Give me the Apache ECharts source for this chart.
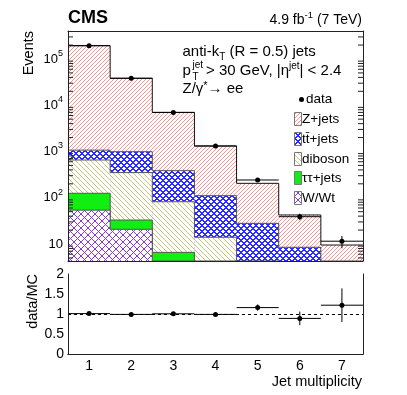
<!DOCTYPE html>
<html>
<head>
<meta charset="utf-8">
<title>CMS jet multiplicity</title>
<script src="https://cdn.jsdelivr.net/npm/echarts@6/dist/echarts.min.js"></script>
<style>
    html, body { margin: 0; padding: 0; background: #fff; }
    #chart { width: 407px; height: 395px; }
</style>
</head>
<body>
<div id="chart"></div>
<script>
    // bins and per-process yields
    var jetBins  = ['1', '2', '3', '4', '5', '6', '7'];
    var zJets    = [192900, 37300, 6615, 1204, 177, 33.9, 6.7];
    var ttJets   = [415, 640, 303, 97, 25.5, 7.7, 2.5];
    var diboson  = [530, 317, 75.4, 13, 2.5, 0.8, 0.3];
    var tauTau   = [71, 12.2, 6.6, 1, 0, 0, 0];
    var wWt      = [54, 20.8, 0, 0, 0, 0, 0];
    var dataVal  = [194000, 38300, 7000, 1315, 242, 38.9, 11.5];
    var dataErr  = [440, 196, 84, 36, 16, 6.2, 3.4];
    var ratioVal = [1.01, 0.99, 1.005, 0.99, 1.16, 0.89, 1.22];
    var ratioErr = [0.01, 0.01, 0.015, 0.03, 0.08, 0.17, 0.42];
    var ratioTicks = [0, 0.5, 1, 1.5, 2];
    var minorTicks = [5, 6, 7, 8, 9, 20, 30, 40, 50, 60, 70, 80, 90,
        200, 300, 400, 500, 600, 700, 800, 900,
        2000, 3000, 4000, 5000, 6000, 7000, 8000, 9000,
        20000, 30000, 40000, 50000, 60000, 70000, 80000, 90000,
        200000, 300000];

    var yMin = 4.29, yMax = 4.03e5;
    var FONT = "'Liberation Sans', Arial, sans-serif";

    // pixel hatch fills like ROOT fill styles
    function hatch(size, color, thick, fwd, back) {
        var c = document.createElement('canvas');
        c.width = size; c.height = size;
        var g = c.getContext('2d');
        g.fillStyle = '#ffffff';
        g.fillRect(0, 0, size, size);
        g.fillStyle = color;
        for (var x = 0; x < size; x++) {
            for (var y = 0; y < size; y++) {
                var a = (x + y) % size, b = (x - y + size) % size;
                if ((fwd && a < thick) || (back && b < thick)) g.fillRect(x, y, 1, 1);
            }
        }
        return { image: c, repeat: 'repeat' };
    }
    var fillZ   = hatch(4, '#ff9494', 1, true, false);
    var fillTt  = hatch(6, '#2a2aff', 2, true, true);
    var fillDib = hatch(5, '#c4c47a', 1, false, true);
    var fillTau = '#11ee11';
    var fillW   = hatch(7, '#8a38dc', 1, true, true);

    // stack: bottom -> top
    var layers = [wWt, tauTau, diboson, ttJets, zJets];
    var cum = [];
    layers.forEach(function (arr, k) {
        cum.push(arr.map(function (v, i) { return v + (k ? cum[k - 1][i] : 0); }));
    });
    function histData(c) {
        return c.map(function (v, i) { return [i, v, i ? c[i - 1] : 0]; });
    }

    function histRender(fill, edge) {
        return function (params, api) {
            var cs = params.coordSys;
            var base = cs.y + cs.height;
            var i = api.value(0);
            var bw = api.size([1, 0])[0];
            var xc = api.coord([i, 10])[0];
            var yOf = function (v) { return v > yMin ? api.coord([i, v])[1] : base; };
            var x0 = xc - bw / 2, x1 = xc + bw / 2;
            var yt = yOf(api.value(1));
            var yp = i > 0 ? yOf(api.value(2)) : base;
            var els = [];
            if (yt < base) {
                els.push({ type: 'rect', shape: { x: x0, y: yt, width: bw, height: base - yt }, style: { fill: fill } });
            }
            if (yt < base || yp < base) {
                var pts = [];
                if (i > 0) pts.push([x0, yp]);
                pts.push([x0, yt], [x1, yt]);
                els.push({ type: 'polyline', shape: { points: pts }, style: { fill: null, stroke: edge, lineWidth: 1 } });
            }
            return { type: 'group', children: els };
        };
    }

    function errRender(params, api) {
        var i = api.value(0), v = api.value(1), e = api.value(2);
        var bw = api.size([1, 0])[0];
        var p = api.coord([i, v]);
        var lo = api.coord([i, v - e]), hi = api.coord([i, v + e]);
        return { type: 'group', children: [
            { type: 'line', shape: { x1: p[0] - bw / 2, y1: p[1], x2: p[0] + bw / 2, y2: p[1] }, style: { stroke: '#000', lineWidth: 1 } },
            { type: 'line', shape: { x1: p[0], y1: lo[1], x2: p[0], y2: hi[1] }, style: { stroke: '#000', lineWidth: 1 } },
            { type: 'circle', shape: { cx: p[0], cy: p[1], r: 2.5 }, style: { fill: '#000' } }
        ] };
    }

    function minorRender(params, api) {
        var cs = params.coordSys;
        var y = api.coord([0, api.value(1)])[1];
        return { type: 'group', children: [
            { type: 'line', shape: { x1: cs.x, y1: y, x2: cs.x + 5, y2: y }, style: { stroke: '#222', lineWidth: 1 } },
            { type: 'line', shape: { x1: cs.x + cs.width - 5, y1: y, x2: cs.x + cs.width, y2: y }, style: { stroke: '#222', lineWidth: 1 } }
        ] };
    }

    var lineCol = '#222';
    function xAx(grid, pos, labels) {
        return {
            type: 'category', gridIndex: grid, data: jetBins, position: pos, z: 10,
            axisLine: { lineStyle: { color: lineCol, width: 1 } },
            axisTick: { inside: true, alignWithLabel: true, length: 5, lineStyle: { color: lineCol } },
            axisLabel: { show: labels, color: '#000', fontSize: 14, fontFamily: FONT, margin: 5 },
            splitLine: { show: false }
        };
    }

    var chart = echarts.init(document.getElementById('chart'));
    chart.setOption({
        animation: false,
        textStyle: { fontFamily: FONT },
        grid: [
            { left: 68, top: 31, width: 295, height: 230 },
            { left: 68, top: 274, width: 295, height: 80 }
        ],
        xAxis: [xAx(0, 'bottom', false), xAx(0, 'top', false), xAx(1, 'bottom', true), xAx(1, 'top', false)],
        yAxis: [
            {
                type: 'log', gridIndex: 0, min: yMin, max: yMax, position: 'left', z: 10,
                axisLine: { show: true, lineStyle: { color: lineCol } },
                axisTick: { inside: true, length: 9, lineStyle: { color: lineCol } },
                splitLine: { show: false },
                axisLabel: {
                    margin: 5, showMinLabel: false, showMaxLabel: false,
                    formatter: function (v) {
                        var e = Math.round(Math.log10(v));
                        return e === 1 ? '{t|10}' : '{b|10}{s|' + e + '}';
                    },
                    rich: {
                        t: { fontSize: 13, color: '#000', fontFamily: FONT },
                        b: { fontSize: 13, lineHeight: 20, color: '#000', fontFamily: FONT },
                        s: { fontSize: 9, lineHeight: 12, verticalAlign: 'top', color: '#000', fontFamily: FONT }
                    }
                }
            },
            {
                type: 'log', gridIndex: 0, min: yMin, max: yMax, position: 'right', z: 10,
                axisLine: { show: true, lineStyle: { color: lineCol } },
                axisTick: { inside: true, length: 9, lineStyle: { color: lineCol } },
                splitLine: { show: false }, axisLabel: { show: false }
            },
            {
                type: 'value', gridIndex: 1, min: ratioTicks[0], max: ratioTicks[ratioTicks.length - 1], interval: 0.5,
                position: 'left', z: 10,
                axisLine: { show: true, lineStyle: { color: lineCol } },
                axisTick: { inside: true, length: 6, lineStyle: { color: lineCol } },
                splitLine: { show: false },
                axisLabel: { color: '#000', fontSize: 14, fontFamily: FONT, margin: 4 }
            },
            {
                type: 'value', gridIndex: 1, min: ratioTicks[0], max: ratioTicks[ratioTicks.length - 1], interval: 0.5,
                position: 'right', z: 10,
                axisLine: { show: true, lineStyle: { color: lineCol } },
                axisTick: { inside: true, length: 6, lineStyle: { color: lineCol } },
                splitLine: { show: false }, axisLabel: { show: false }
            }
        ],
        series: [
            { name: 'Z+jets', type: 'custom', xAxisIndex: 0, yAxisIndex: 0, renderItem: histRender(fillZ, '#111'), data: histData(cum[4]), silent: true },
            { name: 'tt+jets', type: 'custom', xAxisIndex: 0, yAxisIndex: 0, renderItem: histRender(fillTt, '#555'), data: histData(cum[3]), silent: true },
            { name: 'diboson', type: 'custom', xAxisIndex: 0, yAxisIndex: 0, renderItem: histRender(fillDib, '#555'), data: histData(cum[2]), silent: true },
            { name: 'tautau+jets', type: 'custom', xAxisIndex: 0, yAxisIndex: 0, renderItem: histRender(fillTau, '#555'), data: histData(cum[1]), silent: true },
            { name: 'W/Wt', type: 'custom', xAxisIndex: 0, yAxisIndex: 0, renderItem: histRender(fillW, '#555'), data: histData(cum[0]), silent: true },
            { name: 'data', type: 'custom', xAxisIndex: 0, yAxisIndex: 0, renderItem: errRender, z: 5, silent: true,
              data: dataVal.map(function (v, i) { return [i, v, dataErr[i]]; }) },
            { name: 'minor', type: 'custom', xAxisIndex: 0, yAxisIndex: 0, renderItem: minorRender, z: 11, silent: true,
              data: minorTicks.map(function (v) { return [0, v]; }) },
            { name: 'ratio', type: 'custom', xAxisIndex: 2, yAxisIndex: 2, renderItem: errRender, z: 5, silent: true,
              data: ratioVal.map(function (v, i) { return [i, v, ratioErr[i]]; }),
              markLine: { silent: true, symbol: 'none', label: { show: false },
                          lineStyle: { color: '#000', width: 1, type: [3, 3] }, data: [{ yAxis: 1 }] } }
        ],
        graphic: [
            { type: 'text', x: 68, y: 18.5, style: { text: 'CMS', font: 'bold 18px ' + FONT, fill: '#000', align: 'left', verticalAlign: 'middle' } },
            { type: 'text', x: 362, y: 20.5, style: {
                text: '{a|4.9 fb}{s|-1}{a| (7 TeV)}', align: 'right', verticalAlign: 'middle',
                rich: { a: { fontSize: 14, lineHeight: 20, fill: '#000', fontFamily: FONT },
                        s: { fontSize: 9.5, lineHeight: 12, verticalAlign: 'top', fill: '#000', fontFamily: FONT } } } },
            { type: 'text', x: 182.5, y: 52, style: {
                text: '{a|anti-k}{b|T}{a| (R = 0.5) jets}', align: 'left', verticalAlign: 'middle',
                rich: { a: { fontSize: 15, lineHeight: 20, fill: '#000', fontFamily: FONT },
                        b: { fontSize: 10, lineHeight: 12, verticalAlign: 'bottom', fill: '#000', fontFamily: FONT } } } },
            { type: 'text', x: 182.5, y: 71, style: { text: 'p', font: '15px ' + FONT, fill: '#000', align: 'left', verticalAlign: 'middle' } },
            { type: 'text', x: 192.5, y: 65, style: { text: 'jet', font: '10px ' + FONT, fill: '#000', align: 'left', verticalAlign: 'middle' } },
            { type: 'text', x: 192.5, y: 77, style: { text: 'T', font: '10px ' + FONT, fill: '#000', align: 'left', verticalAlign: 'middle' } },
            { type: 'text', x: 206, y: 71, style: {
                text: '{a|> 30 GeV, |\u03b7}{s|jet}{a|| < 2.4}', align: 'left', verticalAlign: 'middle',
                rich: { a: { fontSize: 15, lineHeight: 20, fill: '#000', fontFamily: FONT },
                        s: { fontSize: 10, lineHeight: 12, verticalAlign: 'top', fill: '#000', fontFamily: FONT } } } },
            { type: 'text', x: 182.5, y: 89, style: {
                text: '{a|Z/\u03b3}{s|*}{a|\u2192 ee}', align: 'left', verticalAlign: 'middle',
                rich: { a: { fontSize: 15, lineHeight: 18, fill: '#000', fontFamily: FONT },
                        s: { fontSize: 11, lineHeight: 13, verticalAlign: 'top', fill: '#000', fontFamily: FONT } } } },
            // legend
            { type: 'circle', shape: { cx: 301.5, cy: 99.5, r: 2.5 }, style: { fill: '#000' } },
            { type: 'text', x: 306, y: 99.5, style: { text: 'data', font: '13.5px ' + FONT, fill: '#000', align: 'left', verticalAlign: 'middle' } },
            { type: 'rect', shape: { x: 294.5, y: 112.5, width: 7, height: 13 }, style: { fill: fillZ, stroke: '#777', lineWidth: 1 } },
            { type: 'text', x: 302, y: 119, style: { text: 'Z+jets', font: '13.5px ' + FONT, fill: '#000', align: 'left', verticalAlign: 'middle' } },
            { type: 'rect', shape: { x: 294.5, y: 132.5, width: 7, height: 13 }, style: { fill: fillTt, stroke: '#777', lineWidth: 1 } },
            { type: 'text', x: 302, y: 139, style: { text: 'tt\u0304+jets', font: '13.5px ' + FONT, fill: '#000', align: 'left', verticalAlign: 'middle' } },
            { type: 'rect', shape: { x: 294.5, y: 152.5, width: 7, height: 13 }, style: { fill: fillDib, stroke: '#777', lineWidth: 1 } },
            { type: 'text', x: 302, y: 159, style: { text: 'diboson', font: '13.5px ' + FONT, fill: '#000', align: 'left', verticalAlign: 'middle' } },
            { type: 'rect', shape: { x: 294.5, y: 171.5, width: 7, height: 13 }, style: { fill: fillTau, stroke: '#777', lineWidth: 1 } },
            { type: 'text', x: 302, y: 178, style: { text: '\u03c4\u03c4+jets', font: '13.5px ' + FONT, fill: '#000', align: 'left', verticalAlign: 'middle' } },
            { type: 'rect', shape: { x: 294.5, y: 191.5, width: 7, height: 13 }, style: { fill: fillW, stroke: '#777', lineWidth: 1 } },
            { type: 'text', x: 302, y: 198, style: { text: 'W/Wt', font: '13.5px ' + FONT, fill: '#000', align: 'left', verticalAlign: 'middle' } },
            // axis titles
            { type: 'text', x: 29, y: 31, rotation: Math.PI / 2, style: { text: 'Events', font: '14.5px ' + FONT, fill: '#000', align: 'right', verticalAlign: 'middle' } },
            { type: 'text', x: 33, y: 274, rotation: Math.PI / 2, style: { text: 'data/MC', font: '14.5px ' + FONT, fill: '#000', align: 'right', verticalAlign: 'middle' } },
            { type: 'text', x: 362, y: 382, style: { text: 'Jet multiplicity', font: '14.5px ' + FONT, fill: '#000', align: 'right', verticalAlign: 'middle' } }
        ]
    });
</script>
</body>
</html>
